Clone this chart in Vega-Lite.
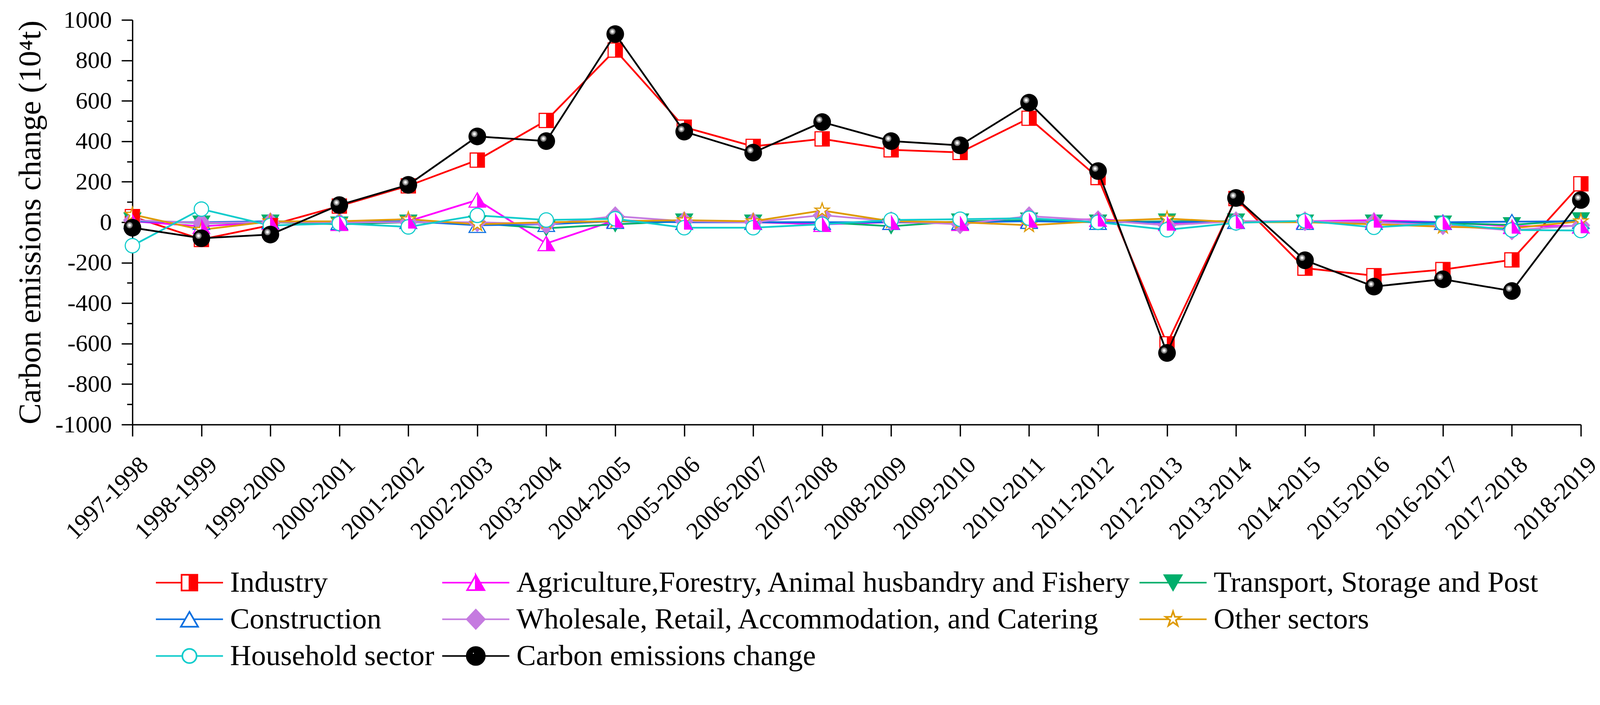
{
  "$schema": "https://vega.github.io/schema/vega-lite/v6.json",
  "width": 3708,
  "height": 1036,
  "autosize": {"type": "none"},
  "padding": {"left": 339, "top": 51, "right": 53, "bottom": 645},
  "background": "white",
  "config": {
    "view": {"stroke": null},
    "font": "Liberation Serif",
    "axis": {"domainColor": "black", "tickColor": "black", "labelColor": "black", "titleColor": "black", "grid": false}
  },
  "resolve": {"axis": {"y": "independent"}},
  "data": {"values": [
    {"period": "1997-1998", "sector": "Industry", "value": 28},
    {"period": "1998-1999", "sector": "Industry", "value": -85},
    {"period": "1999-2000", "sector": "Industry", "value": -15},
    {"period": "2000-2001", "sector": "Industry", "value": 80},
    {"period": "2001-2002", "sector": "Industry", "value": 180},
    {"period": "2002-2003", "sector": "Industry", "value": 307},
    {"period": "2003-2004", "sector": "Industry", "value": 503},
    {"period": "2004-2005", "sector": "Industry", "value": 851},
    {"period": "2005-2006", "sector": "Industry", "value": 470},
    {"period": "2006-2007", "sector": "Industry", "value": 375},
    {"period": "2007-2008", "sector": "Industry", "value": 412},
    {"period": "2008-2009", "sector": "Industry", "value": 358},
    {"period": "2009-2010", "sector": "Industry", "value": 345},
    {"period": "2010-2011", "sector": "Industry", "value": 514},
    {"period": "2011-2012", "sector": "Industry", "value": 221},
    {"period": "2012-2013", "sector": "Industry", "value": -601},
    {"period": "2013-2014", "sector": "Industry", "value": 117},
    {"period": "2014-2015", "sector": "Industry", "value": -227},
    {"period": "2015-2016", "sector": "Industry", "value": -264},
    {"period": "2016-2017", "sector": "Industry", "value": -234},
    {"period": "2017-2018", "sector": "Industry", "value": -186},
    {"period": "2018-2019", "sector": "Industry", "value": 190},

    {"period": "1997-1998", "sector": "Agriculture,Forestry, Animal husbandry and Fishery", "value": 5},
    {"period": "1998-1999", "sector": "Agriculture,Forestry, Animal husbandry and Fishery", "value": -20},
    {"period": "1999-2000", "sector": "Agriculture,Forestry, Animal husbandry and Fishery", "value": 0},
    {"period": "2000-2001", "sector": "Agriculture,Forestry, Animal husbandry and Fishery", "value": -5},
    {"period": "2001-2002", "sector": "Agriculture,Forestry, Animal husbandry and Fishery", "value": 5},
    {"period": "2002-2003", "sector": "Agriculture,Forestry, Animal husbandry and Fishery", "value": 110},
    {"period": "2003-2004", "sector": "Agriculture,Forestry, Animal husbandry and Fishery", "value": -105},
    {"period": "2004-2005", "sector": "Agriculture,Forestry, Animal husbandry and Fishery", "value": 10},
    {"period": "2005-2006", "sector": "Agriculture,Forestry, Animal husbandry and Fishery", "value": 0},
    {"period": "2006-2007", "sector": "Agriculture,Forestry, Animal husbandry and Fishery", "value": 0},
    {"period": "2007-2008", "sector": "Agriculture,Forestry, Animal husbandry and Fishery", "value": -10},
    {"period": "2008-2009", "sector": "Agriculture,Forestry, Animal husbandry and Fishery", "value": 0},
    {"period": "2009-2010", "sector": "Agriculture,Forestry, Animal husbandry and Fishery", "value": -5},
    {"period": "2010-2011", "sector": "Agriculture,Forestry, Animal husbandry and Fishery", "value": 10},
    {"period": "2011-2012", "sector": "Agriculture,Forestry, Animal husbandry and Fishery", "value": 15},
    {"period": "2012-2013", "sector": "Agriculture,Forestry, Animal husbandry and Fishery", "value": -5},
    {"period": "2013-2014", "sector": "Agriculture,Forestry, Animal husbandry and Fishery", "value": 5},
    {"period": "2014-2015", "sector": "Agriculture,Forestry, Animal husbandry and Fishery", "value": 5},
    {"period": "2015-2016", "sector": "Agriculture,Forestry, Animal husbandry and Fishery", "value": 10},
    {"period": "2016-2017", "sector": "Agriculture,Forestry, Animal husbandry and Fishery", "value": 0},
    {"period": "2017-2018", "sector": "Agriculture,Forestry, Animal husbandry and Fishery", "value": -20},
    {"period": "2018-2019", "sector": "Agriculture,Forestry, Animal husbandry and Fishery", "value": -18},

    {"period": "1997-1998", "sector": "Transport, Storage and Post", "value": 10},
    {"period": "1998-1999", "sector": "Transport, Storage and Post", "value": -5},
    {"period": "1999-2000", "sector": "Transport, Storage and Post", "value": 0},
    {"period": "2000-2001", "sector": "Transport, Storage and Post", "value": -10},
    {"period": "2001-2002", "sector": "Transport, Storage and Post", "value": 0},
    {"period": "2002-2003", "sector": "Transport, Storage and Post", "value": -5},
    {"period": "2003-2004", "sector": "Transport, Storage and Post", "value": -30},
    {"period": "2004-2005", "sector": "Transport, Storage and Post", "value": -10},
    {"period": "2005-2006", "sector": "Transport, Storage and Post", "value": 5},
    {"period": "2006-2007", "sector": "Transport, Storage and Post", "value": 0},
    {"period": "2007-2008", "sector": "Transport, Storage and Post", "value": 0},
    {"period": "2008-2009", "sector": "Transport, Storage and Post", "value": -20},
    {"period": "2009-2010", "sector": "Transport, Storage and Post", "value": 5},
    {"period": "2010-2011", "sector": "Transport, Storage and Post", "value": 10},
    {"period": "2011-2012", "sector": "Transport, Storage and Post", "value": 0},
    {"period": "2012-2013", "sector": "Transport, Storage and Post", "value": 5},
    {"period": "2013-2014", "sector": "Transport, Storage and Post", "value": 5},
    {"period": "2014-2015", "sector": "Transport, Storage and Post", "value": 0},
    {"period": "2015-2016", "sector": "Transport, Storage and Post", "value": 0},
    {"period": "2016-2017", "sector": "Transport, Storage and Post", "value": -5},
    {"period": "2017-2018", "sector": "Transport, Storage and Post", "value": -13},
    {"period": "2018-2019", "sector": "Transport, Storage and Post", "value": 11},

    {"period": "1997-1998", "sector": "Construction", "value": 5},
    {"period": "1998-1999", "sector": "Construction", "value": 0},
    {"period": "1999-2000", "sector": "Construction", "value": 5},
    {"period": "2000-2001", "sector": "Construction", "value": 0},
    {"period": "2001-2002", "sector": "Construction", "value": 5},
    {"period": "2002-2003", "sector": "Construction", "value": -15},
    {"period": "2003-2004", "sector": "Construction", "value": -10},
    {"period": "2004-2005", "sector": "Construction", "value": 5},
    {"period": "2005-2006", "sector": "Construction", "value": 0},
    {"period": "2006-2007", "sector": "Construction", "value": 0},
    {"period": "2007-2008", "sector": "Construction", "value": 0},
    {"period": "2008-2009", "sector": "Construction", "value": 0},
    {"period": "2009-2010", "sector": "Construction", "value": 0},
    {"period": "2010-2011", "sector": "Construction", "value": 5},
    {"period": "2011-2012", "sector": "Construction", "value": 0},
    {"period": "2012-2013", "sector": "Construction", "value": 0},
    {"period": "2013-2014", "sector": "Construction", "value": 5},
    {"period": "2014-2015", "sector": "Construction", "value": 0},
    {"period": "2015-2016", "sector": "Construction", "value": 0},
    {"period": "2016-2017", "sector": "Construction", "value": 0},
    {"period": "2017-2018", "sector": "Construction", "value": 3},
    {"period": "2018-2019", "sector": "Construction", "value": 5},

    {"period": "1997-1998", "sector": "Wholesale, Retail, Accommodation, and Catering", "value": 10},
    {"period": "1998-1999", "sector": "Wholesale, Retail, Accommodation, and Catering", "value": -3},
    {"period": "1999-2000", "sector": "Wholesale, Retail, Accommodation, and Catering", "value": 0},
    {"period": "2000-2001", "sector": "Wholesale, Retail, Accommodation, and Catering", "value": 0},
    {"period": "2001-2002", "sector": "Wholesale, Retail, Accommodation, and Catering", "value": 0},
    {"period": "2002-2003", "sector": "Wholesale, Retail, Accommodation, and Catering", "value": 0},
    {"period": "2003-2004", "sector": "Wholesale, Retail, Accommodation, and Catering", "value": -10},
    {"period": "2004-2005", "sector": "Wholesale, Retail, Accommodation, and Catering", "value": 30},
    {"period": "2005-2006", "sector": "Wholesale, Retail, Accommodation, and Catering", "value": 5},
    {"period": "2006-2007", "sector": "Wholesale, Retail, Accommodation, and Catering", "value": 0},
    {"period": "2007-2008", "sector": "Wholesale, Retail, Accommodation, and Catering", "value": 35},
    {"period": "2008-2009", "sector": "Wholesale, Retail, Accommodation, and Catering", "value": 5},
    {"period": "2009-2010", "sector": "Wholesale, Retail, Accommodation, and Catering", "value": -10},
    {"period": "2010-2011", "sector": "Wholesale, Retail, Accommodation, and Catering", "value": 30},
    {"period": "2011-2012", "sector": "Wholesale, Retail, Accommodation, and Catering", "value": 10},
    {"period": "2012-2013", "sector": "Wholesale, Retail, Accommodation, and Catering", "value": -15},
    {"period": "2013-2014", "sector": "Wholesale, Retail, Accommodation, and Catering", "value": 5},
    {"period": "2014-2015", "sector": "Wholesale, Retail, Accommodation, and Catering", "value": 5},
    {"period": "2015-2016", "sector": "Wholesale, Retail, Accommodation, and Catering", "value": 0},
    {"period": "2016-2017", "sector": "Wholesale, Retail, Accommodation, and Catering", "value": -15},
    {"period": "2017-2018", "sector": "Wholesale, Retail, Accommodation, and Catering", "value": -40},
    {"period": "2018-2019", "sector": "Wholesale, Retail, Accommodation, and Catering", "value": -15},

    {"period": "1997-1998", "sector": "Other sectors", "value": 38},
    {"period": "1998-1999", "sector": "Other sectors", "value": -37},
    {"period": "1999-2000", "sector": "Other sectors", "value": 4},
    {"period": "2000-2001", "sector": "Other sectors", "value": 5},
    {"period": "2001-2002", "sector": "Other sectors", "value": 15},
    {"period": "2002-2003", "sector": "Other sectors", "value": -10},
    {"period": "2003-2004", "sector": "Other sectors", "value": 0},
    {"period": "2004-2005", "sector": "Other sectors", "value": 5},
    {"period": "2005-2006", "sector": "Other sectors", "value": 10},
    {"period": "2006-2007", "sector": "Other sectors", "value": 5},
    {"period": "2007-2008", "sector": "Other sectors", "value": 58},
    {"period": "2008-2009", "sector": "Other sectors", "value": 5},
    {"period": "2009-2010", "sector": "Other sectors", "value": 0},
    {"period": "2010-2011", "sector": "Other sectors", "value": -15},
    {"period": "2011-2012", "sector": "Other sectors", "value": 5},
    {"period": "2012-2013", "sector": "Other sectors", "value": 18},
    {"period": "2013-2014", "sector": "Other sectors", "value": 0},
    {"period": "2014-2015", "sector": "Other sectors", "value": 0},
    {"period": "2015-2016", "sector": "Other sectors", "value": -10},
    {"period": "2016-2017", "sector": "Other sectors", "value": -22},
    {"period": "2017-2018", "sector": "Other sectors", "value": -30},
    {"period": "2018-2019", "sector": "Other sectors", "value": 5},

    {"period": "1997-1998", "sector": "Household sector", "value": -116},
    {"period": "1998-1999", "sector": "Household sector", "value": 65},
    {"period": "1999-2000", "sector": "Household sector", "value": -16},
    {"period": "2000-2001", "sector": "Household sector", "value": -6},
    {"period": "2001-2002", "sector": "Household sector", "value": -23},
    {"period": "2002-2003", "sector": "Household sector", "value": 34},
    {"period": "2003-2004", "sector": "Household sector", "value": 11},
    {"period": "2004-2005", "sector": "Household sector", "value": 17},
    {"period": "2005-2006", "sector": "Household sector", "value": -27},
    {"period": "2006-2007", "sector": "Household sector", "value": -27},
    {"period": "2007-2008", "sector": "Household sector", "value": -10},
    {"period": "2008-2009", "sector": "Household sector", "value": 11},
    {"period": "2009-2010", "sector": "Household sector", "value": 15},
    {"period": "2010-2011", "sector": "Household sector", "value": 20},
    {"period": "2011-2012", "sector": "Household sector", "value": 0},
    {"period": "2012-2013", "sector": "Household sector", "value": -37},
    {"period": "2013-2014", "sector": "Household sector", "value": -3},
    {"period": "2014-2015", "sector": "Household sector", "value": 7},
    {"period": "2015-2016", "sector": "Household sector", "value": -25},
    {"period": "2016-2017", "sector": "Household sector", "value": -6},
    {"period": "2017-2018", "sector": "Household sector", "value": -38},
    {"period": "2018-2019", "sector": "Household sector", "value": -41},

    {"period": "1997-1998", "sector": "Carbon emissions change", "value": -27},
    {"period": "1998-1999", "sector": "Carbon emissions change", "value": -79},
    {"period": "1999-2000", "sector": "Carbon emissions change", "value": -61},
    {"period": "2000-2001", "sector": "Carbon emissions change", "value": 85},
    {"period": "2001-2002", "sector": "Carbon emissions change", "value": 185},
    {"period": "2002-2003", "sector": "Carbon emissions change", "value": 424},
    {"period": "2003-2004", "sector": "Carbon emissions change", "value": 401},
    {"period": "2004-2005", "sector": "Carbon emissions change", "value": 930},
    {"period": "2005-2006", "sector": "Carbon emissions change", "value": 448},
    {"period": "2006-2007", "sector": "Carbon emissions change", "value": 344},
    {"period": "2007-2008", "sector": "Carbon emissions change", "value": 495},
    {"period": "2008-2009", "sector": "Carbon emissions change", "value": 401},
    {"period": "2009-2010", "sector": "Carbon emissions change", "value": 380},
    {"period": "2010-2011", "sector": "Carbon emissions change", "value": 591},
    {"period": "2011-2012", "sector": "Carbon emissions change", "value": 253},
    {"period": "2012-2013", "sector": "Carbon emissions change", "value": -646},
    {"period": "2013-2014", "sector": "Carbon emissions change", "value": 120},
    {"period": "2014-2015", "sector": "Carbon emissions change", "value": -188},
    {"period": "2015-2016", "sector": "Carbon emissions change", "value": -318},
    {"period": "2016-2017", "sector": "Carbon emissions change", "value": -282},
    {"period": "2017-2018", "sector": "Carbon emissions change", "value": -340},
    {"period": "2018-2019", "sector": "Carbon emissions change", "value": 110}
  ]},
  "layer": [
    {
      "transform": [{"filter": "datum.sector !== 'Carbon emissions change'"}],
      "mark": {"type": "line", "strokeWidth": 4.5, "strokeJoin": "round"},
      "encoding": {
        "x": {"field": "period", "type": "ordinal", "scale": {"type": "point", "padding": 0},
          "axis": {"title": null, "labelAngle": -45, "labelAlign": "right", "labelBaseline": "middle", "labelFont": "Liberation Serif", "labelFontSize": 62, "labelLimit": 0, "labelPadding": 63, "labelOffset": 30, "tickSize": 30, "tickWidth": 3.4, "domainWidth": 3.4, "labelOverlap": false, "grid": false}},
        "y": {"field": "value", "type": "quantitative", "scale": {"domain": [-1000, 1000], "nice": false, "zero": false},
          "axis": {"orient": "left", "values": [-1000, -800, -600, -400, -200, 0, 200, 400, 600, 800, 1000], "labelExpr": "datum.value + ''", "tickSize": 28, "tickWidth": 3.4, "domainWidth": 3.4, "labelFont": "Liberation Serif", "labelFontSize": 62, "labelPadding": 25, "labelOverlap": false, "title": "Carbon emissions change (10⁴t)", "titleFont": "Liberation Serif", "titleFontSize": 81, "titleFontWeight": "normal", "titlePadding": 22, "grid": false}},
        "color": {"field": "sector", "type": "nominal",
          "scale": {
            "domain": ["Industry", "Agriculture,Forestry, Animal husbandry and Fishery", "Transport, Storage and Post", "Construction", "Wholesale, Retail, Accommodation, and Catering", "Other sectors", "Household sector", "Carbon emissions change"],
            "range": ["#FF0000", "#FF00FF", "#00AE6B", "#0A6FE0", "#C57BE0", "#DE9A00", "#11CCCC", "#000000"]
          },
          "legend": {
            "orient": "none", "legendX": 58, "legendY": 1403, "direction": "horizontal", "columns": 3, "title": null, "gridAlign": "each", "padding": 0,
            "columnPadding": 18, "rowPadding": 18, "clipHeight": 75,
            "symbolSize": 29515, "symbolStrokeWidth": 4,
            "labelFont": "Liberation Serif", "labelFontSize": 75, "labelColor": "black", "labelLimit": 0, "labelOffset": 16, "labelBaseline": "middle",
            "encode": {"symbols": {"update": {
              "shape": {"signal": "['M-1,0H-0.235M0.235,0H1M0,-0.235H0.235V0.235H0ZM0,-0.235H-0.235V0.235H0H-0.235V-0.235H0', 'M-1,0H-0.128M0.128,0H1M0,-0.223L0.257,0.223H0ZM0,-0.223L-0.257,0.223H0H-0.257L0,-0.223', 'M-1,0H1M0,0.223L0.257,-0.223H-0.257Z', 'M-1,0H-0.128M0.128,0H1M0,-0.223L0.257,0.223H-0.257Z', 'M-1,0H1M0,-0.285L0.268,0L0,0.285L-0.268,0Z', 'M-1,0H-0.123M0.123,0H1M0,-0.235L0.0528,-0.0726L0.2235,-0.0726L0.0854,0.0277L0.1382,0.1901L0,0.0898L-0.1382,0.1901L-0.0854,0.0277L-0.2235,-0.0726L-0.0528,-0.0726Z', 'M-1,0H-0.212M0.212,0H1M0.212,0A0.212,0.212 0 1,1 -0.212,0A0.212,0.212 0 1,1 0.212,0Z', 'M-1,0H1M0.268,0A0.268,0.268 0 1,1 -0.268,0A0.268,0.268 0 1,1 0.268,0ZM-0.03,-0.08A0.04,0.04 0 1,0 -0.11,-0.08A0.04,0.04 0 1,0 -0.03,-0.08Z'][indexof(domain('color'), datum.value)]"},
              "fill": {"signal": "['#FF0000', '#FF00FF', '#00AE6B', '#FFFFFF', '#C57BE0', '#FFFFFF', '#FFFFFF', '#000000'][indexof(domain('color'), datum.value)]"},
              "stroke": {"signal": "['#FF0000', '#FF00FF', '#00AE6B', '#0A6FE0', '#C57BE0', '#DE9A00', '#11CCCC', '#000000'][indexof(domain('color'), datum.value)]"},
              "opacity": {"value": 1},
              "fillOpacity": {"value": 1},
              "strokeWidth": {"value": 4.2}
            }}}
          }
        }
      }
    },
    {
      "transform": [{"filter": "datum.sector !== 'Carbon emissions change'"}],
      "mark": {"type": "point", "size": 2116, "strokeWidth": 2.9, "opacity": 1, "fillOpacity": 1},
      "encoding": {
        "x": {"field": "period", "type": "ordinal"},
        "y": {"field": "value", "type": "quantitative", "axis": null},
        "shape": {"field": "sector", "type": "nominal", "legend": null,
          "scale": {
            "domain": ["Industry", "Agriculture,Forestry, Animal husbandry and Fishery", "Transport, Storage and Post", "Construction", "Wholesale, Retail, Accommodation, and Catering", "Other sectors", "Household sector"],
            "range": ["M-0.79,-0.79H0.79V0.79H-0.79Z", "M0,-0.8L0.92,0.8L-0.92,0.8Z", "M0,0.8L0.92,-0.8L-0.92,-0.8Z", "M0,-0.8L0.92,0.8L-0.92,0.8Z", "M0,-1.02L0.96,0L0,1.02L-0.96,0Z", "M0,-0.83L0.186,-0.256L0.789,-0.256L0.301,0.098L0.488,0.671L0,0.317L-0.488,0.671L-0.301,0.098L-0.789,-0.256L-0.186,-0.256Z", "M0.8,0A0.8,0.8 0 1,1 -0.8,0A0.8,0.8 0 1,1 0.8,0Z"]
          }},
        "fill": {"field": "sector", "type": "nominal", "legend": null,
          "scale": {
            "domain": ["Industry", "Agriculture,Forestry, Animal husbandry and Fishery", "Transport, Storage and Post", "Construction", "Wholesale, Retail, Accommodation, and Catering", "Other sectors", "Household sector"],
            "range": ["#FFFFFF", "#FFFFFF", "#00AE6B", "#FFFFFF", "#C57BE0", "#FFFFFF", "#FFFFFF"]
          }},
        "stroke": {"field": "sector", "type": "nominal", "legend": null,
          "scale": {
            "domain": ["Industry", "Agriculture,Forestry, Animal husbandry and Fishery", "Transport, Storage and Post", "Construction", "Wholesale, Retail, Accommodation, and Catering", "Other sectors", "Household sector"],
            "range": ["#FF0000", "#FF00FF", "#00AE6B", "#0A6FE0", "#C57BE0", "#DE9A00", "#11CCCC"]
          }}
      }
    },
    {
      "transform": [{"filter": "datum.sector === 'Industry'"}],
      "mark": {"type": "point", "shape": "M0,-0.79H0.79V0.79H0Z", "size": 2116, "filled": true, "fill": "#FF0000", "stroke": "#FF0000", "strokeWidth": 1, "opacity": 1},
      "encoding": {
        "x": {"field": "period", "type": "ordinal"},
        "y": {"field": "value", "type": "quantitative", "axis": null}
      }
    },
    {
      "transform": [{"filter": "datum.sector === 'Agriculture,Forestry, Animal husbandry and Fishery'"}],
      "mark": {"type": "point", "shape": "M0,-0.8L0.92,0.8L0,0.8Z", "size": 2116, "filled": true, "fill": "#FF00FF", "stroke": "#FF00FF", "strokeWidth": 1, "opacity": 1},
      "encoding": {
        "x": {"field": "period", "type": "ordinal"},
        "y": {"field": "value", "type": "quantitative", "axis": null}
      }
    },
    {
      "transform": [{"filter": "datum.sector === 'Carbon emissions change'"}],
      "mark": {"type": "line", "strokeWidth": 4.5, "strokeJoin": "round"},
      "encoding": {
        "x": {"field": "period", "type": "ordinal"},
        "y": {"field": "value", "type": "quantitative",
          "axis": {"orient": "left", "values": [-900, -700, -500, -300, -100, 100, 300, 500, 700, 900], "tickSize": 14, "tickWidth": 3.4, "labels": false, "domain": false, "title": null, "grid": false}},
        "color": {"field": "sector", "type": "nominal", "legend": null}
      }
    },
    {
      "transform": [{"filter": "datum.sector === 'Carbon emissions change'"}],
      "mark": {"type": "point", "shape": "M0.98,0A0.98,0.98 0 1,1 -0.98,0A0.98,0.98 0 1,1 0.98,0Z", "size": 2116, "filled": true, "fill": "#000000", "strokeWidth": 0, "opacity": 1},
      "encoding": {
        "x": {"field": "period", "type": "ordinal"},
        "y": {"field": "value", "type": "quantitative", "axis": null}
      }
    },
    {
      "transform": [{"filter": "datum.sector === 'Carbon emissions change'"}],
      "mark": {"type": "point", "shape": "M0.03,-0.28A0.35,0.35 0 1,1 -0.67,-0.28A0.35,0.35 0 1,1 0.03,-0.28Z", "size": 2116, "filled": true, "fill": "#7A7A7A", "strokeWidth": 0, "opacity": 1},
      "encoding": {
        "x": {"field": "period", "type": "ordinal"},
        "y": {"field": "value", "type": "quantitative", "axis": null}
      }
    },
    {
      "transform": [{"filter": "datum.sector === 'Carbon emissions change'"}],
      "mark": {"type": "point", "shape": "M-0.1,-0.28A0.22,0.22 0 1,1 -0.54,-0.28A0.22,0.22 0 1,1 -0.1,-0.28Z", "size": 2116, "filled": true, "fill": "#C4C4C4", "strokeWidth": 0, "opacity": 1},
      "encoding": {
        "x": {"field": "period", "type": "ordinal"},
        "y": {"field": "value", "type": "quantitative", "axis": null}
      }
    },
    {
      "transform": [{"filter": "datum.sector === 'Carbon emissions change'"}],
      "mark": {"type": "point", "shape": "M-0.2,-0.28A0.12,0.12 0 1,1 -0.44,-0.28A0.12,0.12 0 1,1 -0.2,-0.28Z", "size": 2116, "filled": true, "fill": "#FFFFFF", "strokeWidth": 0, "opacity": 1},
      "encoding": {
        "x": {"field": "period", "type": "ordinal"},
        "y": {"field": "value", "type": "quantitative", "axis": null}
      }
    }
  ]
}
